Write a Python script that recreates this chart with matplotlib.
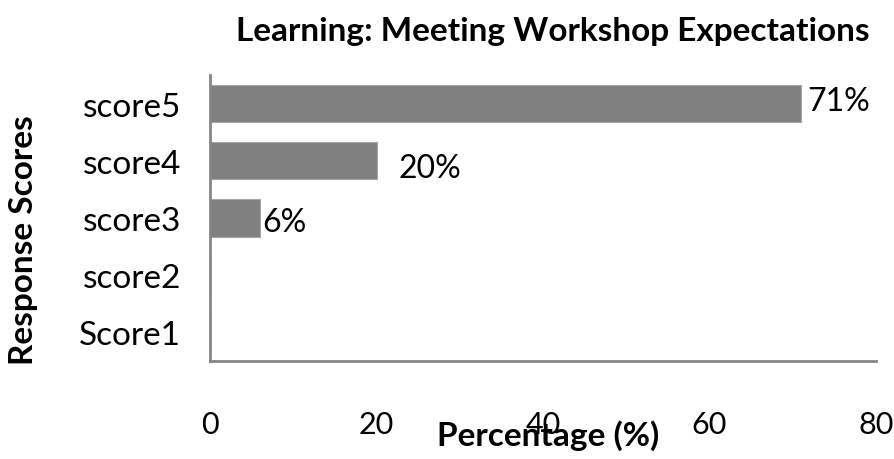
import matplotlib
matplotlib.use("Agg")
import matplotlib.pyplot as plt

categories = ["Score1", "score2", "score3", "score4", "score5"]
values = [0, 0, 6, 20, 71]
labels = ["", "", "6%", "20%", "71%"]
label_dx = [0, 0, 0.3, 2.6, 0.8]   # offsets in data units
label_dy = [0, 0, -0.07, -0.13, 0.05]
xticks = [0, 20, 40, 60, 80]

plt.rcParams['font.family'] = ['Lato', 'DejaVu Sans']

W, H = 894, 460
fig = plt.figure(figsize=(W / 100, H / 100), dpi=100)
ax = fig.add_axes([210 / W, 1 - 362 / H, (876 - 210) / W, (362 - 76) / H])

ypos = list(range(len(categories)))
ax.barh(ypos, values, height=0.65, color="#808080", edgecolor="#a6a6a6", linewidth=0.8)

for y, v, lab, dx, dy in zip(ypos, values, labels, label_dx, label_dy):
    if lab:
        ax.text(v + dx, y + dy, lab, ha="left", va="center", fontsize=23, color="black")

ax.set_xlim(0, 80)
ax.set_ylim(-0.5, 4.5)
ax.set_yticks(ypos)
ax.set_yticklabels(categories, fontsize=24)
ax.set_xticks(xticks)
ax.set_xticklabels([str(t) for t in xticks], fontsize=22)
ax.tick_params(axis="both", length=0)
ax.tick_params(axis="x", pad=35)
ax.tick_params(axis="y", pad=21)

for s in ["top", "right"]:
    ax.spines[s].set_visible(False)
for s in ["left", "bottom"]:
    ax.spines[s].set_color("#868686")
    ax.spines[s].set_linewidth(2)

fig.text(553 / W, 1 - 32 / H, "Learning: Meeting Workshop Expectations",
         ha="center", va="center", fontsize=24, fontweight="bold")
fig.text(548 / W, 1 - 436 / H, "Percentage (%)", ha="center", va="center",
         fontsize=24, fontweight="bold")
fig.text(24 / W, 1 - 240 / H, "Response Scores", ha="center", va="center",
         fontsize=24, fontweight="bold", rotation=90)

fig.savefig("out.png", dpi=100)
